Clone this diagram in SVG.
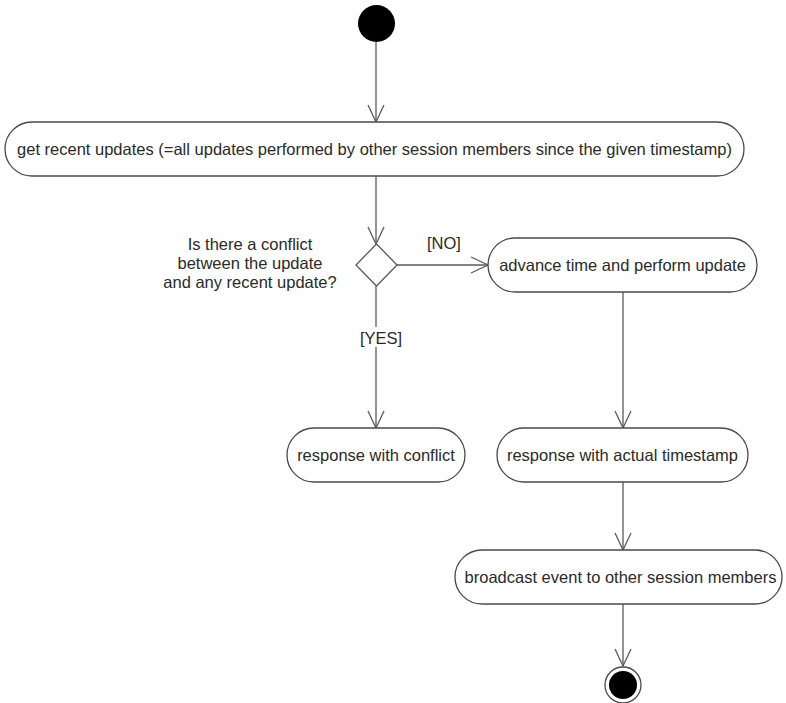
<svg xmlns="http://www.w3.org/2000/svg" width="786" height="703" viewBox="0 0 786 703">
  <style>
    .act { fill: #ffffff; stroke: #4a4a4a; stroke-width: 1.3; }
    .lbl { font-family: "Liberation Sans", Arial, sans-serif; font-size: 16.5px; fill: #2a2a2a; }
    .mid { text-anchor: middle; }
    .flow { fill: none; stroke: #5a5a5a; stroke-width: 1.3; marker-end: url(#open); }
    .dec { fill: #ffffff; stroke: #5a5a5a; stroke-width: 1.3; }
  </style>
  <defs>
    <!-- open V arrowhead, tip at the line end -->
    <marker id="open" viewBox="0 0 20 20" refX="18" refY="10" markerWidth="20" markerHeight="20" markerUnits="userSpaceOnUse" orient="auto">
      <path d="M1,2 L18,10 L1,18" fill="none" stroke="#5a5a5a" stroke-width="1.3"/>
    </marker>
  </defs>
  <rect width="786" height="703" fill="#ffffff"/>

  <g id="connectors">
    <path class="flow" d="M376,42 V122"/>
    <path class="flow" d="M376,176 V244"/>
    <path class="flow" d="M397,265 H488"/>
    <path class="flow" d="M376,286 V428"/>
    <path class="flow" d="M623,292 V428"/>
    <path class="flow" d="M623,482 V550"/>
    <path class="flow" d="M623,604 V666"/>
    <text class="lbl" x="427" y="249">[NO]</text>
    <rect x="359" y="327" width="45" height="20" fill="#ffffff"/>
    <text class="lbl" x="360" y="344">[YES]</text>
  </g>

  <g id="start">
    <circle cx="376.5" cy="23.5" r="18.5" fill="#000000"/>
  </g>

  <g id="get-recent-updates">
    <rect class="act" x="5" y="122" width="739" height="54" rx="27" ry="27"/>
    <text class="lbl mid" x="374.5" y="155">get recent updates (=all updates performed by other session members since the given timestamp)</text>
  </g>

  <g id="conflict-decision">
    <polygon class="dec" points="376.5,244 397,265 376.5,286 356,265"/>
    <text class="lbl mid" x="250" y="250">Is there a conflict</text>
    <text class="lbl mid" x="250" y="269">between the update</text>
    <text class="lbl mid" x="250" y="288">and any recent update?</text>
  </g>

  <g id="advance-time">
    <rect class="act" x="488" y="238" width="269" height="54" rx="27" ry="27"/>
    <text class="lbl mid" x="622.5" y="271">advance time and perform update</text>
  </g>

  <g id="response-conflict">
    <rect class="act" x="287" y="428" width="178" height="54" rx="27" ry="27"/>
    <text class="lbl mid" x="376" y="461">response with conflict</text>
  </g>

  <g id="response-timestamp">
    <rect class="act" x="497" y="428" width="251" height="54" rx="27" ry="27"/>
    <text class="lbl mid" x="622.5" y="461">response with actual timestamp</text>
  </g>

  <g id="broadcast-event">
    <rect class="act" x="455" y="550" width="327" height="54" rx="27" ry="27"/>
    <text class="lbl mid" x="620.5" y="583">broadcast event to other session members</text>
  </g>

  <g id="end">
    <circle cx="623" cy="685" r="18" fill="#ffffff" stroke="#4a4a4a" stroke-width="1.3"/>
    <circle cx="623" cy="685" r="14" fill="#000000"/>
  </g>
</svg>
